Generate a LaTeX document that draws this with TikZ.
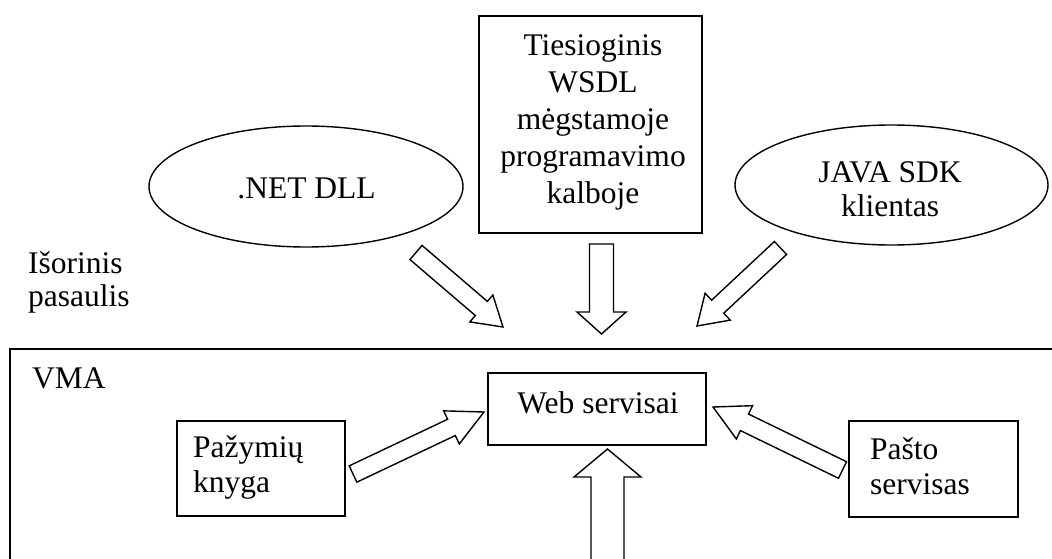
\documentclass[tikz,border=0pt]{standalone}
\usepackage{fontspec}
\setmainfont{Liberation Serif}
\usetikzlibrary{shapes.geometric,calc}

\tikzset{
  outline/.style={draw, line width=1.6pt, inner sep=0pt},
  oval/.style={ellipse, draw, line width=1.4pt, inner sep=0pt},
  txt/.style={font=\fontsize{31.5pt}{35.75pt}\selectfont, inner sep=0pt},
  fat/.style={draw, line width=1.4pt, fill=white, line join=miter},
}

% Block arrow from #1 (tail centre) to #2 (tip):
% #3 half shaft width, #4 half head width, #5 head length
\newcommand\fatarrow[5]{%
  \coordinate (fa-base) at ($(#2)!#5!(#1)$);
  \draw[fat] ($(#1)!#3!90:(#2)$) -- ($(fa-base)!#3!90:(#2)$)
    -- ($(fa-base)!#4!90:(#2)$) -- (#2)
    -- ($(fa-base)!#4!-90:(#2)$) -- ($(fa-base)!#3!-90:(#2)$)
    -- ($(#1)!#3!-90:(#2)$) -- cycle;
}

\begin{document}
\begin{tikzpicture}[x=1pt,y=-1pt]
\clip (0,0) rectangle (1052,559);
\fill[white] (0,0) rectangle (1052,559);

% ---- outside world ----
\node[oval, minimum width=314pt, minimum height=121pt] (net) at (306,186.5) {};
\node[txt, anchor=base] (nettext) at (306.5,198) {.NET DLL};

\node[oval, minimum width=313pt, minimum height=120pt] (java) at (891.5,185) {};
\node[txt, anchor=north, align=center, font=\fontsize{31.5pt}{34.5pt}\selectfont]
  (javatext) at (890,161) {JAVA SDK\\klientas};

\node[outline, minimum width=223pt, minimum height=217pt] (wsdl) at (590.5,124.5) {};
\node[txt, anchor=north, align=center, font=\fontsize{31.5pt}{37pt}\selectfont]
  (wsdltext) at (593,34.2)
  {Tiesioginis\\WSDL\\mėgstamoje\\programavimo\\kalboje};

\node[txt, anchor=north west, align=left, font=\fontsize{31.5pt}{33pt}\selectfont]
  (world) at (28,251.5) {Išorinis\\pasaulis};

% ---- VMA system ----
\node[outline, anchor=north west, minimum width=1100pt, minimum height=300pt] (vma) at (9,348) {};
\node[txt, anchor=base west] (vmatext) at (32,388) {VMA};

\node[outline, minimum width=218pt, minimum height=72pt] (web) at (597,409) {};
\node[txt, anchor=base] (webtext) at (598,413) {Web servisai};

\node[outline, minimum width=168pt, minimum height=95pt] (grades) at (261,468.5) {};
\node[txt, anchor=north west, align=left] (gradestext) at (193,435) {Pažymių\\knyga};

\node[outline, minimum width=169pt, minimum height=96pt] (mail) at (933.5,469) {};
\node[txt, anchor=north west, align=left] (mailtext) at (870,437) {Pašto\\servisas};

% ---- block arrows ----
\coordinate (netTail) at (416,252.5);    \coordinate (netTip) at (503,327);
\coordinate (wsdlTail) at (601.5,244);   \coordinate (wsdlTip) at (601.5,334);
\coordinate (javaTail) at (780.5,248);   \coordinate (javaTip) at (697,326);
\coordinate (gradesTail) at (353,474);   \coordinate (gradesTip) at (484,412);
\coordinate (mailTail) at (842.5,470);   \coordinate (mailTip) at (713,407);
\coordinate (coreTail) at (607.5,620);   \coordinate (coreTip) at (607.5,449);

\fatarrow{netTail}{netTip}{9.3pt}{17.7pt}{28.5pt}
\fatarrow{wsdlTail}{wsdlTip}{12pt}{24.5pt}{22pt}
\fatarrow{javaTail}{javaTip}{8.9pt}{18.4pt}{28.3pt}
\fatarrow{gradesTail}{gradesTip}{9pt}{18.3pt}{36pt}
\fatarrow{mailTail}{mailTip}{9.2pt}{18.5pt}{35pt}
\fatarrow{coreTail}{coreTip}{16.5pt}{33.5pt}{28pt}
\end{tikzpicture}
\end{document}
